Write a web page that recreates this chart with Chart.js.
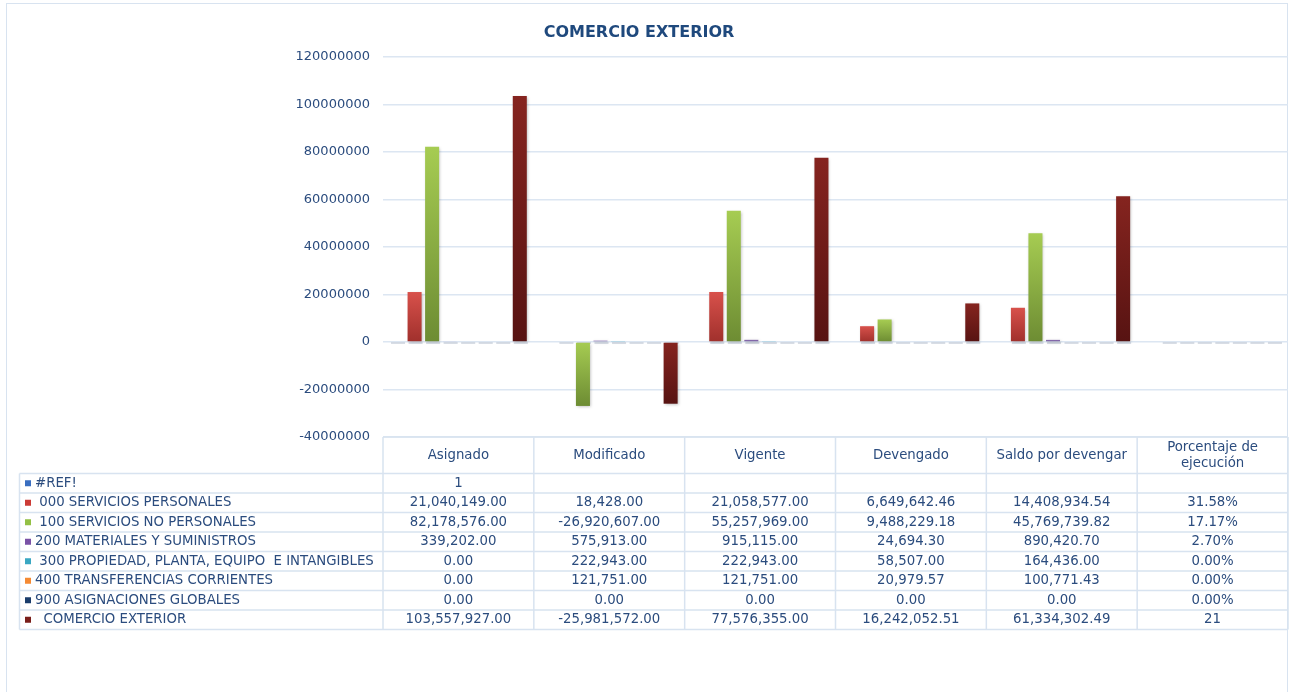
<!DOCTYPE html>
<html>
<head>
<meta charset="utf-8">
<script src="https://cdn.jsdelivr.net/npm/chart.js@4/dist/chart.umd.min.js"></script>
<style>
  html, body { margin: 0; padding: 0; background: #fff; }
  #wrap { width: 1290px; height: 692px; position: relative; }
</style>
</head>
<body>
<div id="wrap"><canvas id="chart"></canvas></div>
<script>
// categories (columns of the data table)
const categories = ['Asignado', 'Modificado', 'Vigente', 'Devengado', 'Saldo por devengar', 'Porcentaje de ejecución'];

// series (rows of the data table)
const seriesNames = [
  '#REF!',
  ' 000 SERVICIOS PERSONALES',
  ' 100 SERVICIOS NO PERSONALES',
  '200 MATERIALES Y SUMINISTROS',
  ' 300 PROPIEDAD, PLANTA, EQUIPO  E INTANGIBLES',
  '400 TRANSFERENCIAS CORRIENTES',
  '900 ASIGNACIONES GLOBALES',
  '  COMERCIO EXTERIOR'
];

const refValues = [1, null, null, null, null, null];
const s000 = [21040149.00, 18428.00, 21058577.00, 6649642.46, 14408934.54, 0.3158];
const s100 = [82178576.00, -26920607.00, 55257969.00, 9488229.18, 45769739.82, 0.1717];
const s200 = [339202.00, 575913.00, 915115.00, 24694.30, 890420.70, 0.027];
const s300 = [0.00, 222943.00, 222943.00, 58507.00, 164436.00, 0];
const s400 = [0.00, 121751.00, 121751.00, 20979.57, 100771.43, 0];
const s900 = [0.00, 0.00, 0.00, 0.00, 0.00, 0];
const sTotal = [103557927.00, -25981572.00, 77576355.00, 16242052.51, 61334302.49, 21];

const yTicks = { min: -40000000, max: 120000000, step: 20000000 };

// bar fill gradients (top, bottom) and legend key colours
const gradTop    = ['#5a8cc8', '#d8514b', '#a6cc52', '#8f74b6', '#55b8d0', '#fa9f52', '#2a568e', '#85241f'];
const gradBottom = ['#3a68a0', '#a0302c', '#6d8c33', '#674a8c', '#37889c', '#d2782c', '#173a66', '#571312'];
const keyColors  = ['#3a6ec0', '#cc3b36', '#93c044', '#7a52a6', '#3aa7c2', '#f58a33', '#1b3d6b', '#7a1e1a'];

const allSeries = [refValues, s000, s100, s200, s300, s400, s900, sTotal];

const textColor = '#2b4c7e';
const lineColor = '#d8e3f0';
const FONT = '"DejaVu Sans", Verdana, sans-serif';

function cellText(si, ci, v) {
  if (v === null || v === undefined) return '';
  if (si === 0) return String(v);
  if (ci === categories.length - 1) {
    if (si === allSeries.length - 1) return String(v);
    return (v * 100).toFixed(2) + '%';
  }
  return v.toLocaleString('en-US', { minimumFractionDigits: 2, maximumFractionDigits: 2 });
}

function barFill(i) {
  return function(c) {
    const chart = c.chart;
    const ys = chart.scales && chart.scales.y;
    if (c.type !== 'data' || !ys || c.raw == null) return gradTop[i];
    const y0 = ys.getPixelForValue(0);
    const y1 = ys.getPixelForValue(c.raw);
    if (!isFinite(y0) || !isFinite(y1)) return gradTop[i];
    const top = Math.min(y0, y1), bot = Math.max(y0, y1);
    // too thin to show: no fill, so no shadow either
    if (bot - top < 0.5) return 'rgba(0,0,0,0)';
    if (bot - top < 1) return gradTop[i];
    const g = chart.ctx.createLinearGradient(0, top, 0, bot);
    g.addColorStop(0, gradTop[i]);
    g.addColorStop(1, gradBottom[i]);
    return g;
  };
}

const datasets = allSeries.map((data, i) => ({
  label: seriesNames[i],
  data: data,
  backgroundColor: barFill(i),
  borderWidth: 0,
  inflateAmount: 0,
  categoryPercentage: 0.93,
  barPercentage: 0.8
}));

// frame, title, bar shadows and the data table
const decor = {
  id: 'decor',
  beforeDraw(chart) {
    const ctx = chart.ctx;
    ctx.save();
    ctx.strokeStyle = lineColor;
    ctx.lineWidth = 1;
    ctx.strokeRect(6.5, 3.5, 1281, 720);
    ctx.fillStyle = '#1f497d';
    ctx.font = 'bold 16px ' + FONT;
    ctx.textAlign = 'center';
    ctx.textBaseline = 'middle';
    ctx.fillText('COMERCIO EXTERIOR', 639, 33);
    ctx.restore();
  },
  beforeDatasetsDraw(chart) {
    const ctx = chart.ctx;
    const y0 = chart.scales.y.getPixelForValue(0);
    ctx.save();
    ctx.fillStyle = 'rgba(190,198,212,0.6)';
    chart.data.datasets.forEach((ds, di) => {
      chart.getDatasetMeta(di).data.forEach((bar, j) => {
        if (ds.data[j] == null) return;
        ctx.fillRect(bar.x - bar.width / 2 + 1, y0, bar.width, 2);
      });
    });
    ctx.restore();
    ctx.save();
    ctx.shadowColor = 'rgba(0,0,0,0.28)';
    ctx.shadowBlur = 3;
    ctx.shadowOffsetX = 1;
    ctx.shadowOffsetY = 1;
  },
  afterDatasetsDraw(chart) {
    chart.ctx.restore();
  },
  afterDraw(chart) {
    const ctx = chart.ctx;
    const xs = chart.scales.x;
    const area = chart.chartArea;
    const n = categories.length;
    const colW = (area.right - area.left) / n;
    const headTop = area.bottom;
    const headBot = 473.5;
    const rowH = 19.5;
    const tableLeft = 19.5;
    const rows = allSeries.length;
    const tableBot = headBot + rows * rowH;

    ctx.save();
    ctx.strokeStyle = lineColor;
    ctx.lineWidth = 1.5;
    ctx.beginPath();
    // header top line
    ctx.moveTo(area.left, headTop);
    ctx.lineTo(area.right, headTop);
    // row lines
    for (let r = 0; r <= rows; r++) {
      const y = headBot + r * rowH;
      ctx.moveTo(tableLeft, y);
      ctx.lineTo(area.right, y);
    }
    // vertical lines
    ctx.moveTo(tableLeft, headBot);
    ctx.lineTo(tableLeft, tableBot);
    for (let c = 0; c <= n; c++) {
      const x = area.left + c * colW;
      ctx.moveTo(x, headTop);
      ctx.lineTo(x, tableBot);
    }
    ctx.stroke();

    ctx.fillStyle = textColor;
    ctx.font = '13.3px ' + FONT;
    ctx.textBaseline = 'middle';
    ctx.textAlign = 'center';
    // header
    categories.forEach((cat, ci) => {
      const cx = xs.getPixelForValue(ci);
      const cy = (headTop + headBot) / 2;
      if (ctx.measureText(cat).width > colW - 10) {
        const parts = cat.split(' ');
        const l1 = parts.slice(0, 2).join(' ');
        const l2 = parts.slice(2).join(' ');
        ctx.fillText(l1, cx, cy - 8);
        ctx.fillText(l2, cx, cy + 8);
      } else {
        ctx.fillText(cat, cx, cy);
      }
    });
    // rows
    allSeries.forEach((data, si) => {
      const cy = headBot + si * rowH + rowH / 2;
      ctx.fillStyle = keyColors[si];
      ctx.fillRect(25, cy - 3, 6, 6);
      ctx.fillStyle = textColor;
      ctx.textAlign = 'left';
      ctx.fillText(seriesNames[si], 35, cy);
      ctx.textAlign = 'center';
      data.forEach((v, ci) => {
        ctx.fillText(cellText(si, ci, v), xs.getPixelForValue(ci), cy);
      });
    });
    ctx.restore();
  }
};

new Chart(document.getElementById('chart'), {
  type: 'bar',
  data: { labels: categories, datasets: datasets },
  plugins: [decor],
  options: {
    responsive: true,
    maintainAspectRatio: false,
    animation: false,
    events: [],
    layout: { padding: { top: 57, right: 2, bottom: 255, left: 0 } },
    plugins: {
      legend: { display: false },
      title: { display: false },
      tooltip: { enabled: false }
    },
    scales: {
      x: {
        display: false,
        grid: { display: false }
      },
      y: {
        min: yTicks.min,
        max: yTicks.max,
        afterFit(scale) { scale.width = 383; },
        border: { display: false },
        grid: { color: '#dce6f2', lineWidth: 1.5, drawTicks: false },
        ticks: {
          stepSize: yTicks.step,
          padding: 13,
          color: textColor,
          font: { family: FONT, size: 13 },
          callback: v => String(v)
        }
      }
    }
  }
});
</script>
</body>
</html>
